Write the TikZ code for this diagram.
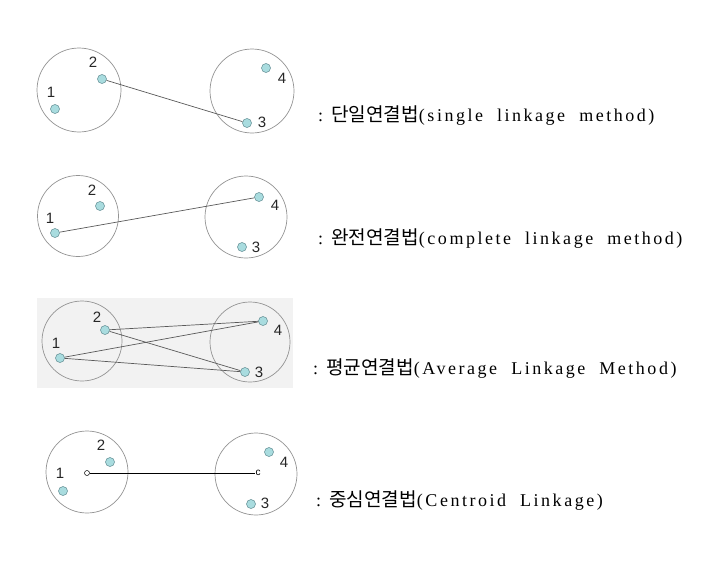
\documentclass[tikz,border=0pt]{standalone}
\usepackage{fontspec}
\setmainfont{Liberation Serif}[LetterSpace=14, WordSpace=2.0]
\newfontfamily\kr{Noto Sans CJK KR}[Scale=1.06]
\newfontfamily\numfont{Liberation Sans}
\usepackage{tikz}
\usetikzlibrary{positioning}
\usepackage{xcolor}
\definecolor{dotfill}{HTML}{A9DCDF}
\definecolor{dotline}{HTML}{5E8A90}

\begin{document}
\begin{tikzpicture}[
  x=1pt, y=-1pt,
  clu/.style={draw=gray!85, circle, line width=0.7pt, inner sep=0pt},
  pt/.style={draw=dotline, fill=dotfill, circle, minimum size=9pt, inner sep=0pt, line width=0.5pt},
  cen/.style={draw=black, fill=white, circle, minimum size=5pt, inner sep=0pt, line width=0.5pt},
  num/.style={font=\numfont\fontsize{15}{15}\selectfont, text=black!85, inner sep=0pt},
  link/.style={draw=black!65, line width=0.7pt},
  caption/.style={anchor=west, inner sep=0pt, font=\fontsize{18}{18}\selectfont}
]
  \useasboundingbox (0,0) rectangle (701,570);

  % single linkage
  \node[clu, minimum size=84pt] (a1) at (79,90) {};
  \node[clu, minimum size=84pt] (a2) at (252,91) {};
  \node[pt] (a1p1) at (55,109) {};
  \node[pt] (a1p2) at (102,79) {};
  \node[pt] (a2p3) at (247,123) {};
  \node[pt] (a2p4) at (266,68) {};
  \node[num] at (51,92) {1};
  \node[num] at (93,62) {2};
  \node[num] at (262,122) {3};
  \node[num] at (282,78) {4};
  \draw[link] (a1p2) -- (a2p3);
  \node[caption] (ta) at (318,116) {:\hspace{8pt}{\kr 단일연결법}(single linkage method)};

  % complete linkage
  \node[clu, minimum size=81pt] (b1) at (78,216) {};
  \node[clu, minimum size=82pt] (b2) at (246,217) {};
  \node[pt] (b1p1) at (55,233) {};
  \node[pt] (b1p2) at (100,206) {};
  \node[pt] (b2p3) at (242,247) {};
  \node[pt] (b2p4) at (259,197) {};
  \node[num] at (50,218) {1};
  \node[num] at (92,190) {2};
  \node[num] at (256,247) {3};
  \node[num] at (275,205) {4};
  \draw[link] (b1p1) -- (b2p4);
  \node[caption] (tb) at (318,239) {:\hspace{8pt}{\kr 완전연결법}(complete linkage method)};

  % average linkage
  \fill[black!5] (37,298) rectangle (293,388);
  \node[clu, minimum size=80pt] (c1) at (82,341) {};
  \node[clu, minimum size=80pt] (c2) at (250,342) {};
  \node[pt] (c1p1) at (60,358) {};
  \node[pt] (c1p2) at (105,330) {};
  \node[pt] (c2p3) at (245,372) {};
  \node[pt] (c2p4) at (263,321) {};
  \node[num] at (56,343) {1};
  \node[num] at (97,317) {2};
  \node[num] at (259,372) {3};
  \node[num] at (278,330) {4};
  \draw[link] (c1p2) -- (c2p4);
  \draw[link] (c1p2) -- (c2p3);
  \draw[link] (c1p1) -- (c2p4);
  \draw[link] (c1p1) -- (c2p3);
  \node[caption] (tc) at (313,369) {:\hspace{8pt}{\kr 평균연결법}(Average Linkage Method)};

  % centroid linkage
  \node[clu, minimum size=82pt] (d1) at (87,472) {};
  \node[clu, minimum size=82pt] (d2) at (256,474) {};
  \node[pt] (d1p1) at (63,491) {};
  \node[pt] (d1p2) at (110,462) {};
  \node[pt] (d2p3) at (251,504) {};
  \node[pt] (d2p4) at (269,452) {};
  \node[num] at (60,473) {1};
  \node[num] at (101,445) {2};
  \node[num] at (265,503) {3};
  \node[num] at (284,462) {4};
  \node[cen] (d1c) at (87,473) {};
  \node[inner sep=0pt, font=\numfont] (d2c) at (258,473) {c};
  \draw[black, line width=0.6pt] (d1c) -- (d2c);
  \node[caption] (td) at (316,501) {:\hspace{8pt}{\kr 중심연결법}(Centroid Linkage)};
\end{tikzpicture}
\end{document}
